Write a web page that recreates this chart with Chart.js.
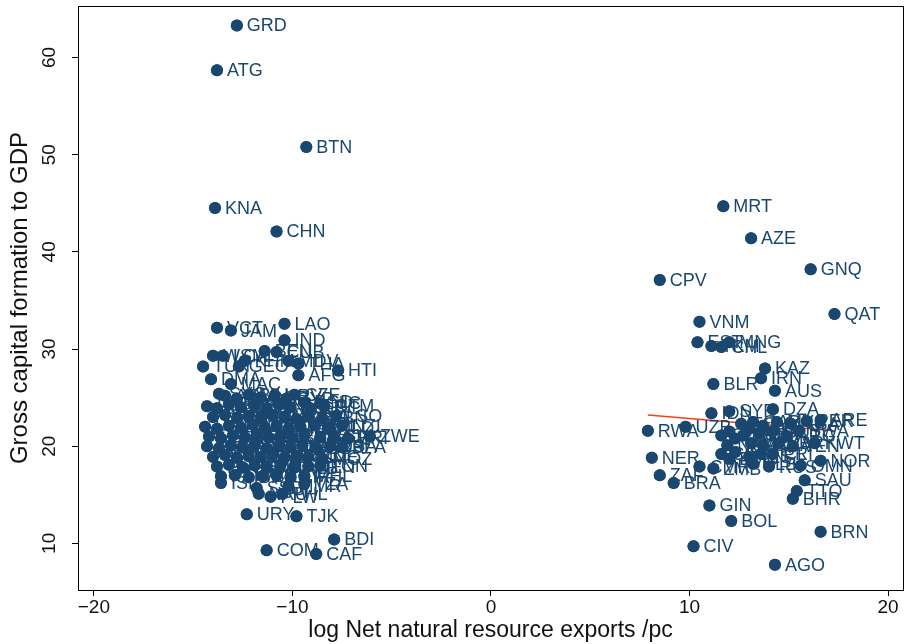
<!DOCTYPE html>
<html><head><meta charset="utf-8">
<script src="https://cdn.jsdelivr.net/npm/chart.js@4.4.1/dist/chart.umd.min.js"></script>
<style>html,body{margin:0;padding:0;background:#fff;}#wrap{width:909px;height:644px;}</style>
</head><body><div id="wrap"><canvas id="c" width="909" height="644"></canvas></div>
<script>
const xTicks = [-20, -10, 0, 10, 20];
const yTicks = [10, 20, 30, 40, 50, 60];
const xTitle = 'log Net natural resource exports /pc';
const yTitle = 'Gross capital formation to GDP';

const leftCodes = ['GRD','ATG','BTN','KNA','CHN','VCT','JAM','LAO','IND','WSM','LCA','KHM','BEN','CUB','MDV','THA','TUN','DMA','MAC','GEO','AFG','HTI','SYC','BGD','NIC',
 'ARM','BLZ','BIH','BGR','HRV','CYP','CZE',
 'DNK','DOM','SLV','ETH','FJI','FIN','FRA','DEU','GRC','GTM',
 'HND','HUN','ISR','ITA','JPN','JOR','KOR','KGZ','LVA','LBN','LSO',
 'LTU','LUX','MDG','MWI','MLI','MLT','MUS','MDA','MAR','NPL','NLD','NZL',
 'PAN','PRY','FSM','POL','PRT','ROU','SEN','SRB','SLE','SGP','SVK','ERI',
 'SVN','ESP','SWZ','SWE','CHE','TGO','TUR','UGA','UKR','GBR','USA','BFA',
 'BEL','AUT','CRI','DJI','GMB','GNB','HKG','MKD','MNE','MOZ',
 'PNG','STP','SOM','SDN','VUT','YEM','ALB','KEN','TON',
 'PAK','LKA','BRB','BHS','TUV','KIR','MHL',
 'ISL','TZA','SSD','MMR','PHL','PLW','NRU',
 'URY','TJK','BDI','CAF','COM','ZWE'];
const leftX = [-12.8,-13.8,-9.3,-13.9,-10.8,-13.8,-13.1,-10.4,-10.4,-14.0,-13.5,-12.4,-11.4,-10.8,-10.2,-9.7,-14.5,-14.1,-13.1,-12.7,-9.7,-7.7,-13.7,-9.4,-8.6,
 -13.4,-12.8,-12.2,-11.6,-10.9,-10.3,-9.9,
 -14.3,-13.8,-13.2,-12.6,-11.9,-11.3,-10.7,-10.1,-9.1,-8.4,
 -14.0,-13.4,-12.8,-12.2,-11.6,-11.0,-10.4,-9.8,-9.2,-8.5,-7.8,
 -14.4,-13.8,-13.2,-12.6,-12.0,-11.4,-10.8,-10.2,-9.6,-8.9,-8.2,-7.5,
 -14.2,-13.6,-13.0,-12.4,-11.8,-11.2,-10.6,-10.0,-9.4,-8.6,-7.9,-7.2,
 -14.3,-13.7,-13.1,-12.5,-11.9,-11.3,-10.7,-10.1,-9.5,-8.8,-8.1,-7.5,
 -14.0,-13.4,-12.8,-12.2,-11.6,-11.0,-10.4,-9.8,-9.2,-8.5,
 -13.8,-13.2,-12.5,-11.9,-11.3,-10.6,-9.9,-9.2,-8.6,
 -13.6,-12.9,-12.2,-11.5,-10.8,-10.1,-9.4,
 -13.6,-9.4,-11.8,-10.2,-10.5,-11.1,-11.7,
 -12.3,-9.8,-7.9,-8.8,-11.3,-6.1];
const leftY = [63.3,58.7,50.8,44.5,42.1,32.2,31.9,32.6,30.9,29.3,29.3,28.8,29.8,29.7,28.8,28.5,28.2,26.9,26.4,28.2,27.3,27.8,25.4,24.5,24.4,
 25.2,24.9,25.3,25.0,25.2,24.9,25.3,
 24.1,23.9,24.3,24.0,24.2,23.9,24.3,24.0,23.9,24.1,
 23.0,23.2,22.9,23.1,22.9,23.2,23.0,22.8,23.1,22.9,23.1,
 22.0,21.8,22.1,21.9,22.2,21.9,22.1,21.8,22.0,22.2,21.9,22.1,
 21.0,20.8,21.1,20.9,21.2,20.9,21.0,20.8,21.1,20.9,21.0,20.8,
 20.0,19.8,20.1,19.9,20.1,19.8,20.0,19.9,20.1,19.8,20.0,19.9,
 18.9,19.1,18.8,19.0,18.9,19.1,18.8,19.0,18.9,18.7,
 17.9,18.1,17.8,18.0,17.9,18.1,17.8,17.9,18.0,
 16.9,17.0,16.8,16.9,17.0,16.8,16.9,
 16.2,16.1,15.7,15.9,15.1,14.8,15.1,
 13.0,12.8,10.4,8.9,9.3,21.0];

const rightCodes = ['MRT','AZE','GNQ','CPV','QAT','VNM','EST','TKM','CHL','MNG','KAZ','IRN','BLR','AUS','DZA','IDN','SYR','RWA','UZB','ARE',
 'CAN','COL','ECU','EGY','GAB','LBY','MYS','NGA','PER',
 'COG','TCD','SUR','GUY','ARG','BWA',
 'NAM','MEX','GHA','LBR','VEN','KWT',
 'COD','IRQ','TLS','NCL','PRI','BMU','SLB',
 'CMR','ZMB','RUS','OMN','NOR','SAU','TTO','BHR','NER','ZAF','BRA',
 'GIN','BOL','CIV','AGO','BRN'];
const rightX = [11.7,13.1,16.1,8.5,17.3,10.5,10.4,11.1,11.6,12.0,13.8,13.6,11.2,14.3,14.2,11.1,12.0,7.9,9.8,16.6,
 12.0,12.3,13.0,12.6,13.2,13.7,14.4,15.1,15.9,
 11.6,12.7,13.5,14.2,14.9,15.5,
 11.9,13.1,13.7,14.5,15.2,16.3,
 11.6,12.3,13.0,13.6,14.2,12.0,13.2,
 10.5,11.2,14.0,15.6,16.6,15.8,15.4,15.2,8.1,8.5,9.2,
 11.0,12.1,10.2,14.3,16.6];
const rightY = [44.7,41.4,38.2,37.1,33.6,32.8,30.7,30.3,30.2,30.7,28.0,27.0,26.4,25.7,23.8,23.4,23.6,21.6,22.0,22.7,
 21.5,20.8,21.8,22.3,22.5,22.1,22.5,22.3,22.6,
 21.1,21.1,21.3,21.5,21.0,21.6,
 20.1,20.3,20.1,20.3,20.0,20.3,
 19.2,19.4,18.9,19.2,19.2,18.7,18.2,
 17.9,17.7,17.9,18.0,18.5,16.5,15.4,14.6,18.8,17.0,16.2,
 13.9,12.3,9.7,7.8,11.2];

const fitLeftX = [-14.5, -6.1];
const fitLeftY = [24.6, 20.1];
const fitRightX = [7.9, 17.3];
const fitRightY = [23.2, 21.6];

const codes = leftCodes.concat(rightCodes);
const allY = leftY.concat(rightY);
const pts = leftX.concat(rightX).map((x, i) => ({x: x, y: allY[i]}));

const NAVY = '#1a476f';
const FONT = '"Liberation Sans", Arial, sans-serif';

const frame = {
  id: 'frame',
  afterDraw(chart) {
    const a = chart.chartArea, ctx = chart.ctx;
    ctx.save(); ctx.strokeStyle = '#000'; ctx.lineWidth = 1;
    ctx.strokeRect(Math.round(a.left) + 0.5, Math.round(a.top) + 0.5, Math.round(a.right - a.left), Math.round(a.bottom - a.top));
    ctx.restore();
  }
};
const mlabels = {
  id: 'mlabels',
  afterDatasetsDraw(chart) {
    const meta = chart.getDatasetMeta(0), ctx = chart.ctx;
    ctx.save();
    ctx.font = '18px ' + FONT; ctx.textBaseline = 'middle'; ctx.textAlign = 'left';
    meta.data.forEach((el, i) => {
      el.draw(ctx, chart.chartArea);
      ctx.fillStyle = NAVY;
      ctx.fillText(codes[i], el.x + 10, el.y + 1);
    });
    ctx.restore();
  }
};

new Chart(document.getElementById('c'), {
  type: 'scatter',
  data: { datasets: [
    { data: pts, backgroundColor: NAVY, borderWidth: 0, pointRadius: 6, order: 0 },
    { type: 'line', data: fitLeftX.map((x, i) => ({x: x, y: fitLeftY[i]})), borderColor: '#2a7a2a', borderWidth: 1.5, pointRadius: 0, showLine: true, fill: false, order: 2 },
    { type: 'line', data: fitRightX.map((x, i) => ({x: x, y: fitRightY[i]})), borderColor: '#ff3a1a', borderWidth: 1.5, pointRadius: 0, showLine: true, fill: false, order: 1 }
  ]},
  options: {
    responsive: false, animation: false, devicePixelRatio: 1,
    layout: { padding: { top: 6, right: 3, left: 0, bottom: 0 } },
    plugins: { legend: { display: false }, tooltip: { enabled: false } },
    scales: {
      x: {
        type: 'linear', min: -20.8, max: 20.75,
        afterBuildTicks: s => { s.ticks = xTicks.map(v => ({value: v})); },
        afterFit: s => { s.height = 54; s.paddingLeft = 0; s.paddingRight = 0; },
        grid: { display: true, drawOnChartArea: false, drawTicks: true, tickLength: 6, color: '#000' },
        border: { display: false },
        ticks: { color: '#111', font: { family: FONT, size: 19 }, padding: 0, maxRotation: 0,
                 callback: v => String(v).replace('-', '\u2212') },
        title: { display: true, text: xTitle, color: '#111', font: { family: FONT, size: 23 }, padding: { top: 0, bottom: 0 } }
      },
      y: {
        type: 'linear', min: 5.2, max: 65.3,
        afterBuildTicks: s => { s.ticks = yTicks.map(v => ({value: v})); },
        afterFit: s => { s.width = 78; s.paddingTop = 0; s.paddingBottom = 0; },
        grid: { display: true, drawOnChartArea: false, drawTicks: true, tickLength: 6, color: '#000' },
        border: { display: false },
        ticks: { color: '#111', font: { family: FONT, size: 19 }, padding: 12, minRotation: 90, maxRotation: 90, crossAlign: 'center' },
        title: { display: true, text: yTitle, color: '#111', font: { family: FONT, size: 24 }, padding: { top: 6, bottom: 0 } }
      }
    }
  },
  plugins: [frame, mlabels]
});
</script></body></html>
